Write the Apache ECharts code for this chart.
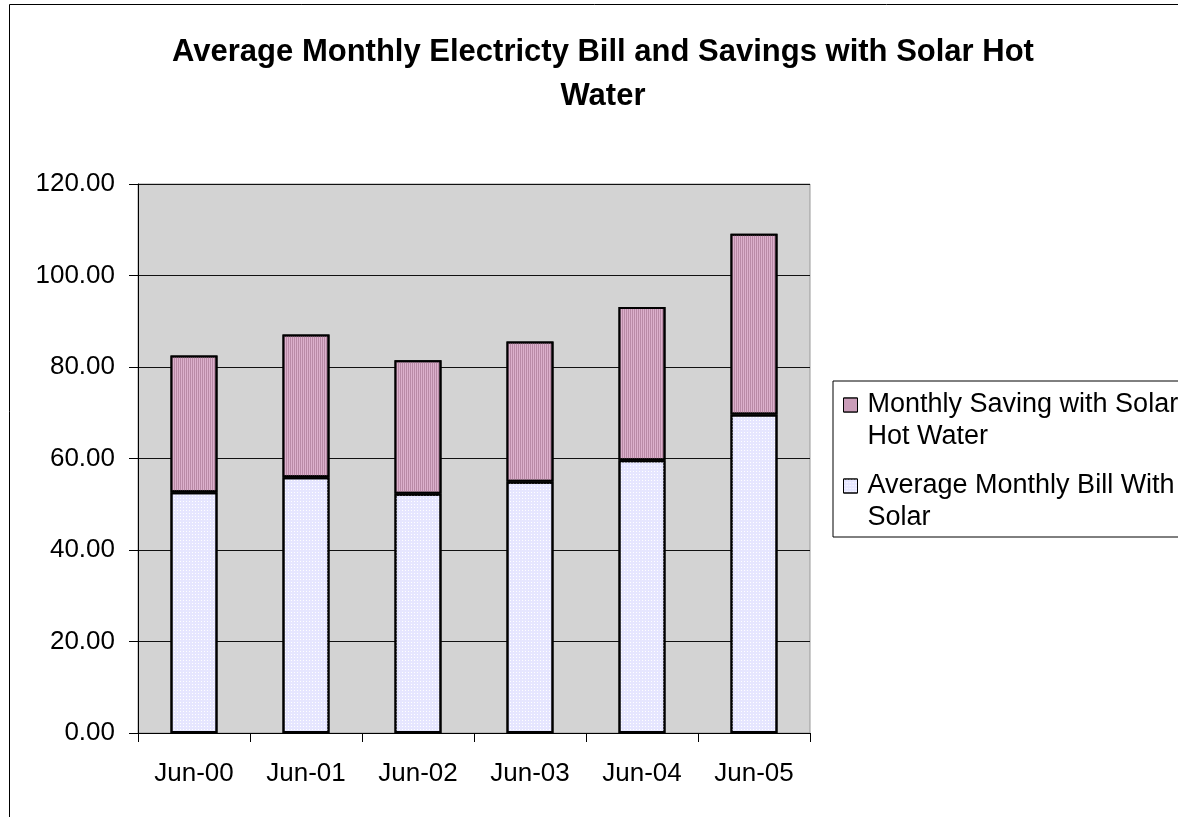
<!DOCTYPE html>
<html>
<head>
<meta charset="utf-8">
<script src="https://cdn.jsdelivr.net/npm/echarts@6/dist/echarts.min.js"></script>
<style>
html,body{margin:0;padding:0;background:#fff;}
#chart{width:1178px;height:817px;}
</style>
</head>
<body>
<div id="chart"></div>
<script>
// ---- data ----
const categories = ['Jun-00', 'Jun-01', 'Jun-02', 'Jun-03', 'Jun-04', 'Jun-05'];
const billWithSolar = [52.6, 55.9, 52.3, 54.9, 59.6, 69.6];
const monthlySaving = [29.9, 31.2, 29.2, 30.7, 33.5, 39.5];
const yTicks = [0, 20, 40, 60, 80, 100, 120];
const titleText = 'Average Monthly Electricty Bill and Savings with Solar Hot\nWater';
const nameBill = 'Average Monthly Bill With Solar';
const nameSaving = 'Monthly Saving with Solar Hot Water';
const legendLabels = {};
legendLabels[nameSaving] = 'Monthly Saving with Solar\nHot Water';
legendLabels[nameBill] = 'Average Monthly Bill With\nSolar';

const FONT = '"Liberation Sans", Arial, sans-serif';
const iconPath = 'path://M0,0 L14,0 L14,14 L0,14 Z M0,46 L0,46';

const chart = echarts.init(document.getElementById('chart'), null, {renderer: 'canvas'});
chart.setOption({
  backgroundColor: '#ffffff',
  animation: false,
  textStyle: {fontFamily: FONT},
  graphic: [{
    type: 'rect',
    silent: true,
    shape: {x: 9.5, y: 4.5, width: 3000, height: 3000},
    style: {fill: 'none', stroke: '#000', lineWidth: 1},
    z: -10
  }],
  title: {
    text: titleText,
    left: 603,
    top: 30,
    padding: 0,
    textAlign: 'center',
    textStyle: {fontFamily: FONT, fontSize: 31, fontWeight: 'bold', color: '#000', lineHeight: 44}
  },
  legend: {
    orient: 'vertical',
    left: 833,
    top: 381,
    padding: [8, 10, 3, 10],
    borderColor: '#000',
    borderWidth: 1,
    itemWidth: 14,
    itemHeight: 46,
    itemGap: 17,
    icon: iconPath,
    itemStyle: {borderWidth: 1, borderColor: '#000'},
    data: [nameSaving, nameBill],
    formatter: function (n) { return legendLabels[n]; },
    textStyle: {fontFamily: FONT, fontSize: 27, lineHeight: 32, color: '#000', padding: [0, 0, 0, 5]}
  },
  grid: {
    left: 138, right: 368, top: 184, bottom: 84,
    show: true,
    backgroundColor: '#d3d3d3',
    borderColor: '#999',
    borderWidth: 1
  },
  xAxis: {
    type: 'category',
    data: categories,
    axisLine: {lineStyle: {color: '#000', width: 1}},
    axisTick: {show: true, length: 9, lineStyle: {color: '#000'}},
    axisLabel: {color: '#000', fontSize: 26, fontFamily: FONT, margin: 28},
    splitLine: {show: false}
  },
  yAxis: {
    type: 'value',
    min: yTicks[0],
    max: yTicks[yTicks.length - 1],
    interval: yTicks[1] - yTicks[0],
    axisLine: {show: true, lineStyle: {color: '#000', width: 1}},
    axisTick: {show: true, length: 9, lineStyle: {color: '#000'}},
    axisLabel: {color: '#000', fontSize: 26, fontFamily: FONT, margin: 23,
      formatter: function (v) { return v.toFixed(2); }},
    splitLine: {show: true, lineStyle: {color: '#111', width: 1}}
  },
  series: [
    {
      name: nameBill,
      type: 'bar',
      stack: 'total',
      barWidth: 47,
      data: billWithSolar,
      itemStyle: {
        color: '#e6e6ff',
        borderColor: '#000',
        borderWidth: 2,
        decal: {symbol: 'rect', symbolSize: 1, dashArrayX: [1, 2], dashArrayY: [1, 2], color: '#ffffff', rotation: 0}
      }
    },
    {
      name: nameSaving,
      type: 'bar',
      stack: 'total',
      barWidth: 47,
      data: monthlySaving,
      itemStyle: {
        color: '#dcb0cc',
        borderColor: '#000',
        borderWidth: 2,
        decal: {symbol: 'rect', symbolSize: 1, dashArrayX: [1, 1], dashArrayY: [4, 0], color: '#b98aa6', rotation: 0}
      }
    }
  ]
});
</script>
</body>
</html>
